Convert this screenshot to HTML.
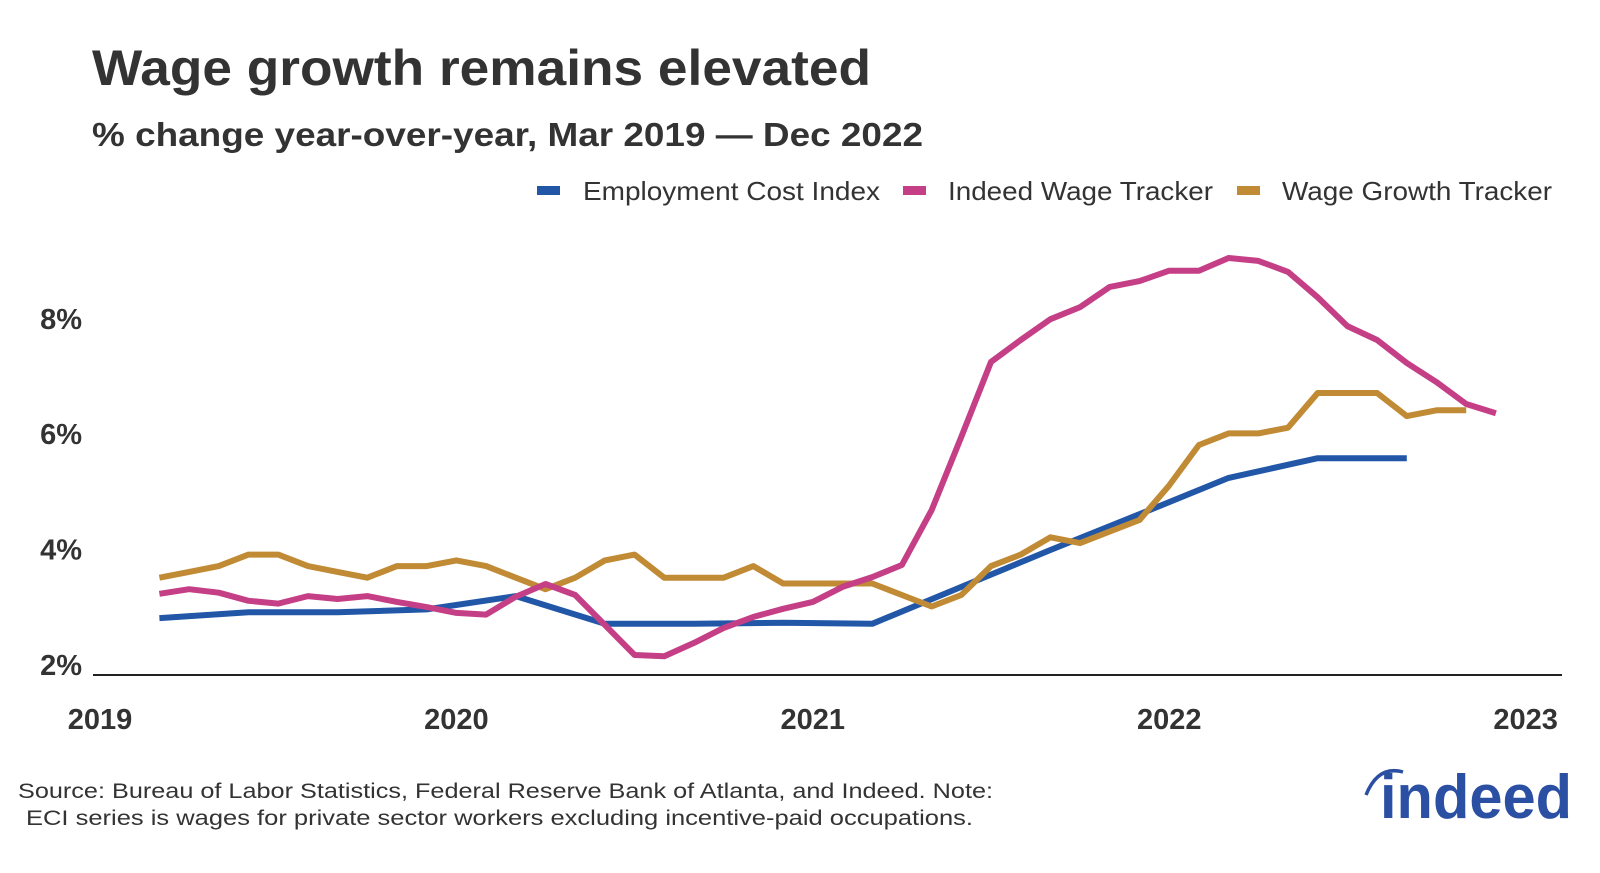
<!DOCTYPE html>
<html><head><meta charset="utf-8"><style>
html,body{margin:0;padding:0;background:#fff;}
svg{display:block;font-family:"Liberation Sans",sans-serif;}
</style></head><body>
<svg id="chart" width="1600" height="873" viewBox="0 0 1600 873">
<text x="92" y="85" font-size="50" font-weight="bold" fill="#333" textLength="779" lengthAdjust="spacingAndGlyphs">Wage growth remains elevated</text>
<text x="92" y="146" font-size="33" font-weight="bold" fill="#333" textLength="831" lengthAdjust="spacingAndGlyphs">% change year-over-year, Mar 2019 — Dec 2022</text>
<g>
<g><rect x="537" y="186" width="23" height="9" fill="#2257a8"/><text x="583" y="200" font-size="26" fill="#333" textLength="297" lengthAdjust="spacingAndGlyphs">Employment Cost Index</text></g>
<g><rect x="903" y="186" width="23" height="9" fill="#c53f86"/><text x="948" y="200" font-size="26" fill="#333" textLength="265" lengthAdjust="spacingAndGlyphs">Indeed Wage Tracker</text></g>
<g><rect x="1237" y="186" width="23" height="9" fill="#c18a34"/><text x="1282" y="200" font-size="26" fill="#333" textLength="270" lengthAdjust="spacingAndGlyphs">Wage Growth Tracker</text></g>
</g>
<line x1="93" y1="675" x2="1562" y2="675" stroke="#222" stroke-width="2"/>
<g id="yticks"></g><g id="xticks"></g><g id="series"></g>
<text x="18" y="798" font-size="21" fill="#333" textLength="975" lengthAdjust="spacingAndGlyphs">Source: Bureau of Labor Statistics, Federal Reserve Bank of Atlanta, and Indeed. Note:</text>
<text x="26" y="825" font-size="21" fill="#333" textLength="947" lengthAdjust="spacingAndGlyphs">ECI series is wages for private sector workers excluding incentive-paid occupations.</text>
<g>
<path d="M1366 795 Q1378 765 1403 772" stroke="#2a4fa3" stroke-width="3.5" fill="none"/>
<text x="1380" y="818" font-size="62" font-weight="bold" fill="#2a4fa3" textLength="192" lengthAdjust="spacingAndGlyphs">indeed</text>
</g>
</svg>
<script>
const yTicks = [2, 4, 6, 8];
const xTickYears = [2019, 2020, 2021, 2022, 2023];
const eciMonths = [2, 5, 8, 11, 14, 17, 20, 23, 26, 29, 32, 35, 38, 41, 44];
const eciValues = [2.9, 3.0, 3.0, 3.05, 3.28, 2.8, 2.8, 2.82, 2.8, 3.44, 4.08, 4.7, 5.33, 5.67, 5.67];
const indeedValues = [3.32,3.4,3.34,3.2,3.15,3.28,3.23,3.28,3.18,3.09,2.99,2.96,3.27,3.49,3.3,2.78,2.26,2.24,2.47,2.73,2.92,3.06,3.18,3.44,3.61,3.82,4.77,6.04,7.34,7.72,8.08,8.29,8.64,8.74,8.92,8.92,9.14,9.09,8.9,8.46,7.96,7.72,7.32,6.99,6.61,6.45];
const wgtValues = [3.6,3.7,3.8,4.0,4.0,3.8,3.7,3.6,3.8,3.8,3.9,3.8,3.6,3.4,3.6,3.9,4.0,3.6,3.6,3.6,3.8,3.5,3.5,3.5,3.5,3.3,3.1,3.3,3.8,4.0,4.3,4.2,4.4,4.6,5.2,5.9,6.1,6.1,6.2,6.8,6.8,6.8,6.4,6.5,6.5];
const startMonth = 2; // Mar 2019, months since Jan 2019
function xScale(m){ return 100 + m * 29.7; }
function yScale(v){ return 670 - (v - 2) * 57.7; }
const NS = "http://www.w3.org/2000/svg";
const yg = document.getElementById('yticks');
yTicks.forEach(v => {
  const t = document.createElementNS(NS, 'text');
  t.setAttribute('x', 82); t.setAttribute('y', yScale(v) + 5);
  t.setAttribute('text-anchor', 'end'); t.setAttribute('font-size', '29');
  t.setAttribute('font-weight', 'bold'); t.setAttribute('fill', '#333');
  
  
  t.textContent = v + '%'; yg.appendChild(t);
});
const xg = document.getElementById('xticks');
xTickYears.forEach(yr => {
  const t = document.createElementNS(NS, 'text');
  t.setAttribute('x', xScale((yr - 2019) * 12)); t.setAttribute('y', 729);
  t.setAttribute('text-anchor', 'middle'); t.setAttribute('font-size', '29');
  t.setAttribute('font-weight', 'bold'); t.setAttribute('fill', '#333');
  
  
  t.textContent = yr; xg.appendChild(t);
});
const sg = document.getElementById('series');
function drawLine(pts, color, name){
  const p = document.createElementNS(NS, 'polyline');
  p.setAttribute('points', pts.map(d => xScale(d[0]).toFixed(1) + ',' + yScale(d[1]).toFixed(1)).join(' '));
  p.setAttribute('fill', 'none'); p.setAttribute('stroke', color);
  p.setAttribute('stroke-width', '6'); p.setAttribute('stroke-linejoin', 'round');
  
  
  sg.appendChild(p);
}
drawLine(eciValues.map((v, i) => [eciMonths[i], v]), '#2257a8', 'eci-line');
drawLine(wgtValues.map((v, i) => [startMonth + i, v]), '#c18a34', 'wage-growth-tracker-line');
drawLine(indeedValues.map((v, i) => [startMonth + i, v]), '#c53f86', 'indeed-wage-tracker-line');
</script>
</body></html>
